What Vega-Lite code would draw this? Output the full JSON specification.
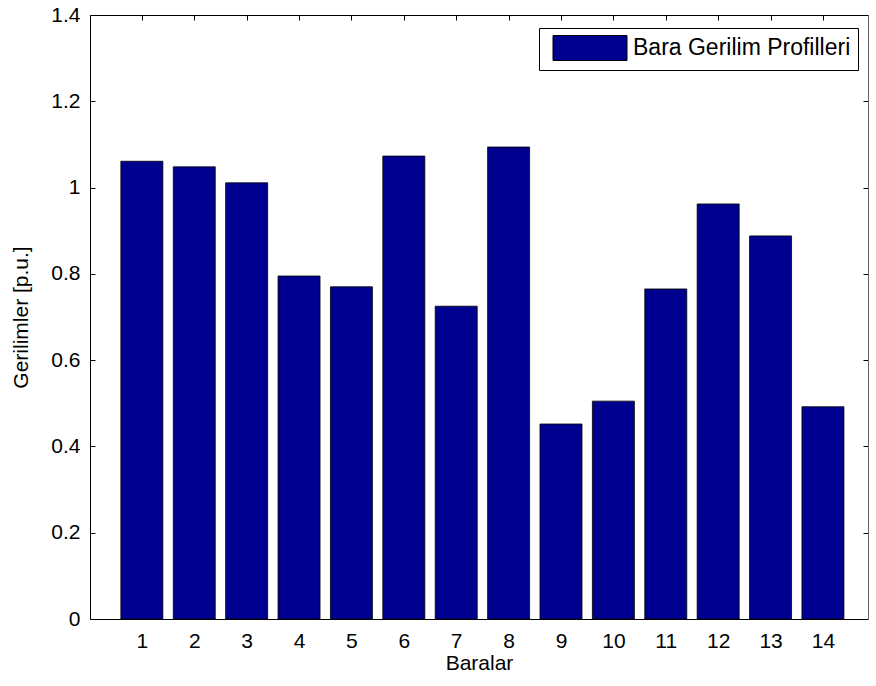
{
  "$schema": "https://vega.github.io/schema/vega-lite/v6.json",
  "width": 778,
  "height": 604,
  "autosize": {"type": "none"},
  "padding": {"left": 90, "top": 15, "right": 8, "bottom": 67},
  "background": "white",
  "config": {
    "font": "Liberation Sans",
    "view": {"stroke": null},
    "axis": {
      "labelFont": "Liberation Sans",
      "titleFont": "Liberation Sans",
      "labelFontSize": 21,
      "titleFontSize": 21,
      "titleFontWeight": "normal",
      "labelColor": "#000",
      "titleColor": "#000",
      "domainColor": "#000",
      "domainWidth": 1,
      "tickColor": "#000",
      "tickWidth": 1,
      "grid": false,
      "tickSize": -5
    }
  },
  "data": {
    "values": [
      {"bara": 1, "gerilim": 1.061},
      {"bara": 2, "gerilim": 1.048},
      {"bara": 3, "gerilim": 1.011},
      {"bara": 4, "gerilim": 0.795},
      {"bara": 5, "gerilim": 0.770},
      {"bara": 6, "gerilim": 1.073},
      {"bara": 7, "gerilim": 0.725},
      {"bara": 8, "gerilim": 1.094},
      {"bara": 9, "gerilim": 0.452},
      {"bara": 10, "gerilim": 0.505},
      {"bara": 11, "gerilim": 0.765},
      {"bara": 12, "gerilim": 0.962},
      {"bara": 13, "gerilim": 0.888},
      {"bara": 14, "gerilim": 0.492}
    ]
  },
  "layer": [
    {
      "mark": {"type": "bar", "width": 42, "stroke": "#000", "strokeWidth": 0.8},
      "encoding": {
        "x": {
          "field": "bara",
          "type": "quantitative",
          "scale": {"domain": [0.01, 14.86], "nice": false, "zero": false, "padding": 0},
          "axis": {
            "orient": "bottom",
            "values": [1, 2, 3, 4, 5, 6, 7, 8, 9, 10, 11, 12, 13, 14],
            "title": "Baralar",
            "labelPadding": 16,
            "titlePadding": 1
          }
        },
        "y": {
          "field": "gerilim",
          "type": "quantitative",
          "scale": {"domain": [0, 1.4], "nice": false, "padding": 0},
          "axis": {
            "orient": "left",
            "values": [0, 0.2, 0.4, 0.6, 0.8, 1, 1.2, 1.4],
            "format": "~g",
            "title": "Gerilimler [p.u.]",
            "labelPadding": 15,
            "titlePadding": 19
          }
        },
        "color": {
          "datum": "Bara Gerilim Profilleri",
          "type": "nominal",
          "scale": {"range": ["#00008F"]},
          "legend": {
            "orient": "none",
            "legendX": 449,
            "legendY": 13,
            "title": null,
            "symbolType": "M-2.96,-1H2.96V1H-2.96Z",
            "symbolSize": 625,
            "symbolStrokeColor": "#000",
            "symbolStrokeWidth": 1,
            "symbolOpacity": 1,
            "symbolOffset": 31,
            "labelOffset": 30,
            "labelFont": "Liberation Sans",
            "labelFontSize": 23,
            "labelColor": "#000",
            "labelLimit": 400,
            "padding": 7,
            "strokeColor": "#000",
            "fillColor": "#fff"
          }
        }
      }
    },
    {
      "mark": {"type": "point", "opacity": 0},
      "encoding": {
        "x": {
          "field": "bara",
          "type": "quantitative",
          "axis": {
            "orient": "top",
            "values": [1, 2, 3, 4, 5, 6, 7, 8, 9, 10, 11, 12, 13, 14],
            "labels": false,
            "title": null
          }
        },
        "y": {
          "field": "gerilim",
          "type": "quantitative",
          "axis": {
            "orient": "right",
            "values": [0, 0.2, 0.4, 0.6, 0.8, 1, 1.2, 1.4],
            "labels": false,
            "title": null,
            "domainColor": "#666"
          }
        }
      }
    }
  ],
  "resolve": {"axis": {"x": "independent", "y": "independent"}}
}
